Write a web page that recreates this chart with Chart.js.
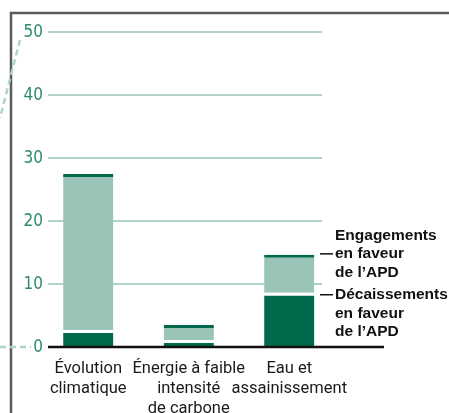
<!DOCTYPE html>
<html>
<head>
<meta charset="utf-8">
<script src="https://cdn.jsdelivr.net/npm/chart.js@4.4.1/dist/chart.umd.min.js"></script>
<style>
  html, body { margin: 0; padding: 0; background: #fff; }
  #wrap { width: 449px; height: 413px; position: relative; }
</style>
</head>
<body>
<div id="wrap"><canvas id="apdChart"></canvas></div>
<script>
// Data (USD billions, roughly)
const categories = [
  ['Évolution', 'climatique'],
  ['Énergie à faible', 'intensité', 'de carbone'],
  ['Eau et', 'assainissement']
];
const disbursements = [2.7, 1.1, 8.6];
const commitments = [27.4, 3.5, 14.6];
const yTicks = [0, 10, 20, 30, 40, 50];
const legendEngagements = ['Engagements', 'en faveur', 'de l\u2019APD'];
const legendDecaissements = ['Décaissements', 'en faveur', 'de l\u2019APD'];

const darkGreen = '#00694b';
const lightGreen = '#9bc4b8';
const gridGreen = '#afd3c9';
const tickGreen = '#2c8a6c';

// frame, gridlines, y labels, baseline and side notes
const decorPlugin = {
  id: 'decor',
  beforeDatasetsDraw(chart) {
    const ctx = chart.ctx;
    const y = chart.scales.y;
    ctx.save();
    // outer frame (top + left)
    ctx.strokeStyle = '#5a5a5a';
    ctx.lineWidth = 2.5;
    ctx.beginPath();
    ctx.moveTo(449, 13);
    ctx.lineTo(11, 13);
    ctx.lineTo(11, 413);
    ctx.stroke();
    // dashed callout lines
    ctx.strokeStyle = gridGreen;
    ctx.lineWidth = 2.5;
    ctx.setLineDash([6, 4]);
    ctx.beginPath();
    ctx.moveTo(20, 40);
    ctx.lineTo(0, 118);
    ctx.stroke();
    ctx.beginPath();
    ctx.moveTo(0, y.getPixelForValue(0));
    ctx.lineTo(31, y.getPixelForValue(0));
    ctx.stroke();
    ctx.setLineDash([]);
    // gridlines + tick labels
    ctx.strokeStyle = gridGreen;
    ctx.lineWidth = 2;
    ctx.fillStyle = tickGreen;
    ctx.font = '17px "Liberation Sans Narrow", "DejaVu Sans Condensed", sans-serif';
    ctx.textAlign = 'right';
    ctx.textBaseline = 'middle';
    y.ticks.forEach(t => {
      const py = Math.round(y.getPixelForValue(t.value));
      ctx.fillText(String(t.value), 43, py + 1);
      if (t.value === 0) return;
      ctx.beginPath();
      ctx.moveTo(48, py);
      ctx.lineTo(322, py);
      ctx.stroke();
    });
    ctx.restore();
  },
  afterDatasetsDraw(chart) {
    const ctx = chart.ctx;
    const y = chart.scales.y;
    ctx.save();
    // zero line
    const y0 = y.getPixelForValue(0);
    ctx.strokeStyle = '#111';
    ctx.lineWidth = 2.5;
    ctx.beginPath();
    ctx.moveTo(48, y0);
    ctx.lineTo(384, y0);
    ctx.stroke();

    // notes for the last bar
    const last = categories.length - 1;
    const lh = 18.5;
    ctx.fillStyle = '#111';
    ctx.font = 'bold 15.5px "Liberation Sans", Arial, sans-serif';
    ctx.textBaseline = 'middle';
    ctx.textAlign = 'left';
    ctx.lineWidth = 1.5;

    const yE = y.getPixelForValue(commitments[last]) - 1;
    ctx.beginPath(); ctx.moveTo(320, yE); ctx.lineTo(333, yE); ctx.stroke();
    legendEngagements.forEach((s, i) => ctx.fillText(s, 335, yE + (i - 1) * lh));

    const yD = y.getPixelForValue(disbursements[last]) + 2;
    ctx.beginPath(); ctx.moveTo(320, yD); ctx.lineTo(333, yD); ctx.stroke();
    legendDecaissements.forEach((s, i) => ctx.fillText(s, 335, yD + i * lh));
    ctx.restore();
  }
};

new Chart(document.getElementById('apdChart'), {
  type: 'bar',
  data: {
    labels: categories,
    datasets: [
      {
        label: 'Décaissements en faveur de l\u2019APD',
        data: disbursements.map(d => [0, d]),
        backgroundColor: darkGreen,
        borderColor: '#ffffff',
        borderWidth: { top: 3, right: 0, bottom: 0, left: 0 },
        borderSkipped: false
      },
      {
        label: 'Engagements en faveur de l\u2019APD',
        data: commitments.map((c, i) => [disbursements[i], c]),
        backgroundColor: lightGreen,
        borderColor: darkGreen,
        borderWidth: { top: 3, right: 0, bottom: 0, left: 0 },
        borderSkipped: false
      }
    ]
  },
  options: {
    responsive: true,
    maintainAspectRatio: false,
    animation: false,
    datasets: { bar: { categoryPercentage: 1, barPercentage: 0.5 } },
    layout: { padding: { left: 8, right: 109.5, top: 31.5, bottom: 0 } },
    plugins: {
      legend: { display: false },
      tooltip: { enabled: false }
    },
    scales: {
      x: {
        stacked: true,
        grid: { display: false },
        border: { display: false },
        ticks: {
          color: '#1a1a1a',
          padding: 4,
          maxRotation: 0,
          autoSkip: false,
          font: { family: 'Roboto, "Liberation Sans", sans-serif', size: 16.5, lineHeight: 1.2 }
        },
        afterFit(scale) { scale.height = 66; }
      },
      y: {
        min: 0,
        max: 50,
        grid: { display: false, drawTicks: false },
        border: { display: false },
        afterBuildTicks(scale) { scale.ticks = yTicks.map(v => ({ value: v })); },
        ticks: { display: false },
        afterFit(scale) { scale.width = 30; }
      }
    }
  },
  plugins: [decorPlugin]
});
</script>
</body>
</html>
